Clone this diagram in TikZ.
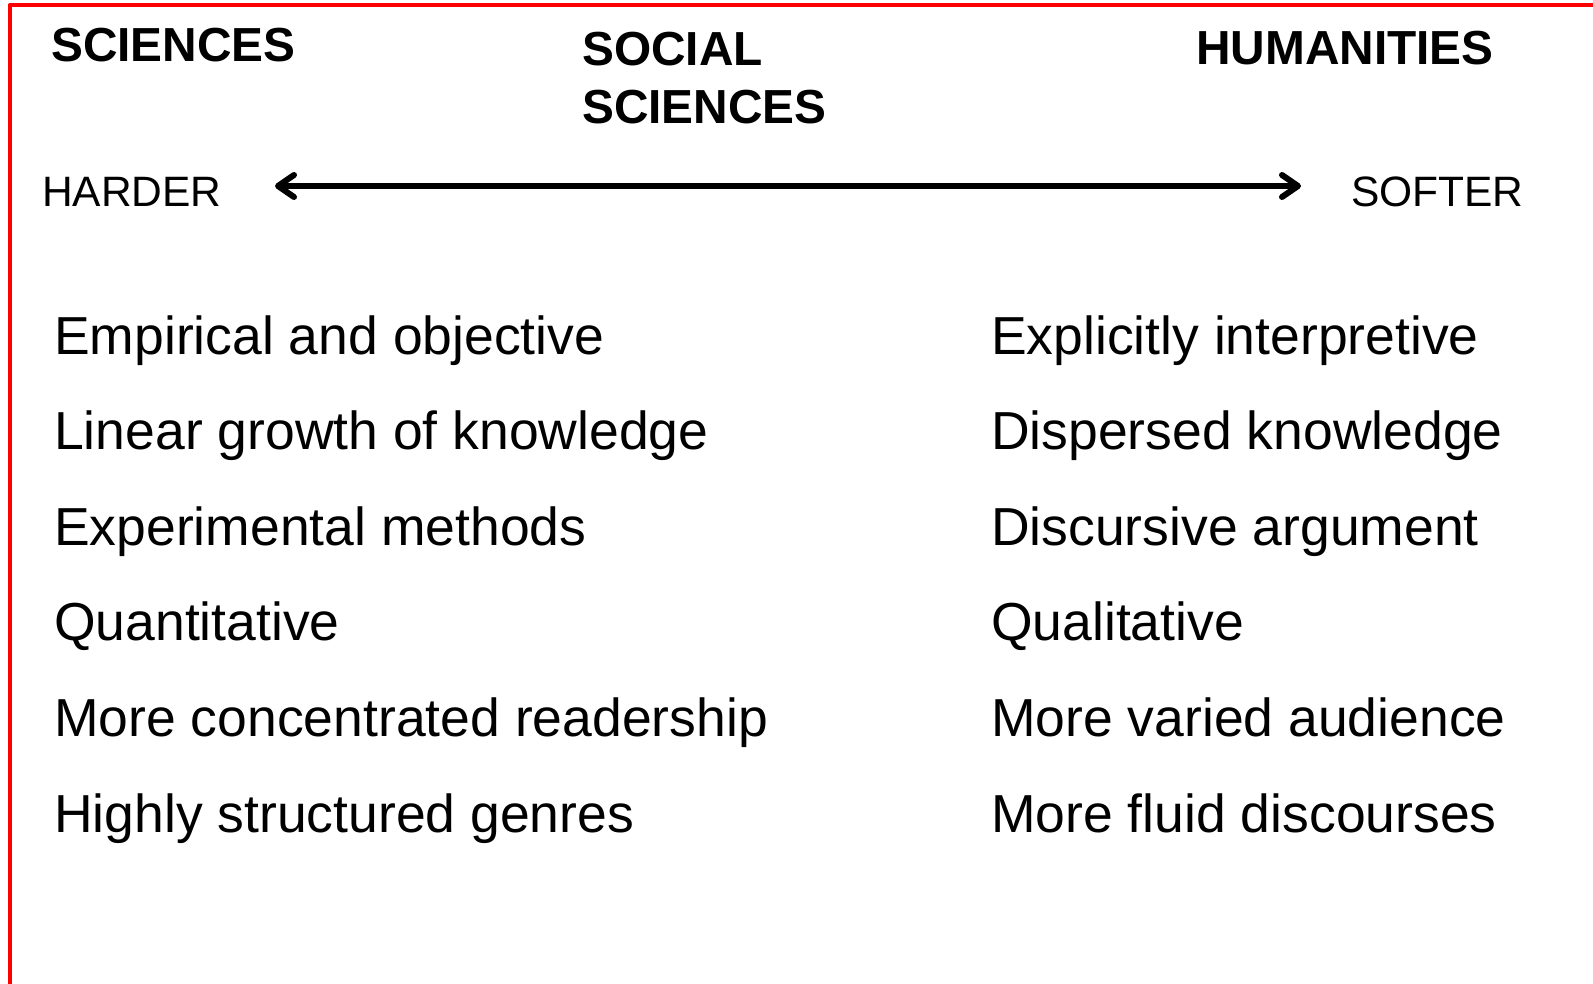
\documentclass[tikz,border=0pt]{standalone}
\usepackage{fontspec}
\setmainfont{Liberation Sans}
\usetikzlibrary{arrows.meta}

\tikzset{
	head/.style={anchor=base west, inner sep=0pt, font=\bfseries\fontsize{47.8}{58}\selectfont, align=left},
	pole/.style={anchor=base west, inner sep=0pt, font=\fontsize{42.5}{51}\selectfont},
	item/.style={anchor=base west, inner sep=0pt, font=\fontsize{53.5}{64}\selectfont},
	barb/.tip={Straight Barb[length=16pt, width=22pt, round]}
}

\begin{document}
\begin{tikzpicture}[x=1pt, y=-1pt, line join=round, line cap=round]
		\useasboundingbox (0,0) rectangle (1593,984);
		\draw[red, line width=4pt, line cap=butt] (9.5,984)--(9.5,5.5)--(1593,5.5);
		% headings
		\node[head] (sci) at (51,62) {SCIENCES};
		\node[head] (soc) at (582,124) {SOCIAL\\SCIENCES};
		\node[head] (hum) at (1196,65) {HUMANITIES};
		% scale from harder to softer
		\node[pole] (hard) at (42,207) {HARDER};
		\node[pole] (soft) at (1351,207) {SOFTER};
		\coordinate (hl) at (275,186);
		\coordinate (sr) at (1301,186);
		\draw[barb-barb, line width=6pt] (hl)--(sr);
		% left column
		\node[item] (l1) at (54,354) {Empirical and objective};
		\node[item] (l2) at (54,449.6) {Linear growth of knowledge};
		\node[item] (l3) at (54,545.2) {Experimental methods};
		\node[item] (l4) at (54,640.8) {Quantitative};
		\node[item] (l5) at (54,736.4) {More concentrated readership};
		\node[item] (l6) at (54,832) {Highly structured genres};
		% right column
		\node[item] (r1) at (991,354) {Explicitly interpretive};
		\node[item] (r2) at (991,449.6) {Dispersed knowledge};
		\node[item] (r3) at (991,545.2) {Discursive argument};
		\node[item] (r4) at (991,640.8) {Qualitative};
		\node[item] (r5) at (991,736.4) {More varied audience};
		\node[item] (r6) at (991,832) {More fluid discourses};
\end{tikzpicture}
\end{document}
